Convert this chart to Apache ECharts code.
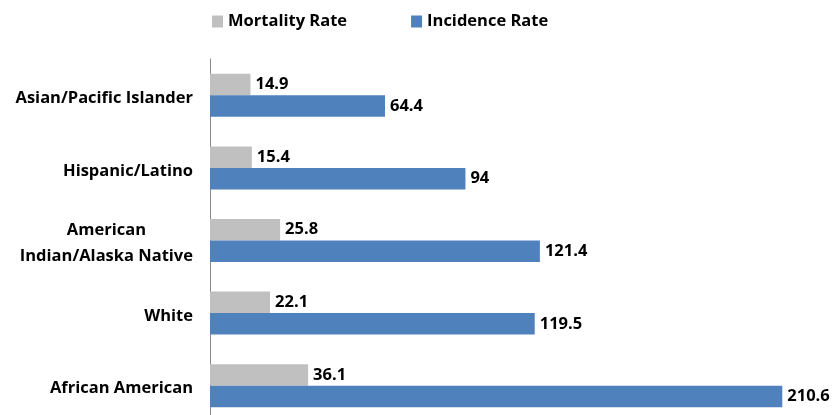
<!DOCTYPE html>
<html>
<head>
<meta charset="utf-8">
<script src="https://cdn.jsdelivr.net/npm/echarts@6/dist/echarts.min.js"></script>
<style>
  html, body { margin: 0; padding: 0; background: #fff; overflow: hidden; }
  /* drawing surface runs a little past the bottom edge so the last band is cut off */
  #chart { width: 839px; height: 425px; }
</style>
</head>
<body>
<div id="chart"></div>
<script>
// Rates per 100,000 by race/ethnicity (top to bottom)
const categories = [
  'Asian/Pacific Islander',
  'Hispanic/Latino',
  'American\nIndian/Alaska Native',
  'White',
  'African American'
];
const mortalityRate = [14.9, 15.4, 25.8, 22.1, 36.1];
const incidenceRate = [64.4, 94, 121.4, 119.5, 210.6];
const seriesNames = ['Mortality Rate', 'Incidence Rate'];

const FONT = 'Open Sans';
const FS = 16.5;
const chart = echarts.init(document.getElementById('chart'), null, { renderer: 'canvas' });

const valueLabel = {
  show: true,
  position: 'right',
  distance: 5,
  color: '#000',
  fontFamily: FONT,
  fontWeight: 'bold',
  fontSize: FS,
  padding: [3, 0, 0, 0]
};

chart.setOption({
  animation: false,
  backgroundColor: '#fff',
  legend: {
    left: 207,
    top: 8,
    itemWidth: 11,
    itemHeight: 12,
    itemGap: 64,
    icon: 'rect',
    textStyle: { fontFamily: FONT, fontWeight: 'bold', fontSize: FS, color: '#000' },
    data: seriesNames
  },
  grid: { left: 210, top: 59, width: 625, height: 363, containLabel: false },
  xAxis: {
    type: 'value',
    min: 0,
    max: 230,
    show: false
  },
  yAxis: {
    type: 'category',
    inverse: true,
    data: categories,
    axisLine: { show: true, lineStyle: { color: '#898989', width: 1 } },
    axisTick: { show: false },
    axisLabel: {
      margin: 17,
      color: '#000',
      fontFamily: FONT,
      fontWeight: 'bold',
      fontSize: FS,
      lineHeight: 26,
      padding: [6, 0, 0, 0],
      formatter: function (v) {
        return v.split('\n').map(function (s) { return '{c|' + s + '}'; }).join('\n');
      },
      rich: {
        c: { align: 'center', fontFamily: FONT, fontWeight: 'bold', fontSize: FS, lineHeight: 26, color: '#000' }
      }
    }
  },
  series: [
    {
      name: seriesNames[0],
      type: 'bar',
      data: mortalityRate,
      barWidth: 21.5,
      barGap: '0%',
      itemStyle: { color: '#C0C0C0' },
      label: valueLabel
    },
    {
      name: seriesNames[1],
      type: 'bar',
      data: incidenceRate,
      barWidth: 21.5,
      barGap: '0%',
      itemStyle: { color: '#4F81BD' },
      label: valueLabel
    }
  ]
});
</script>
</body>
</html>
